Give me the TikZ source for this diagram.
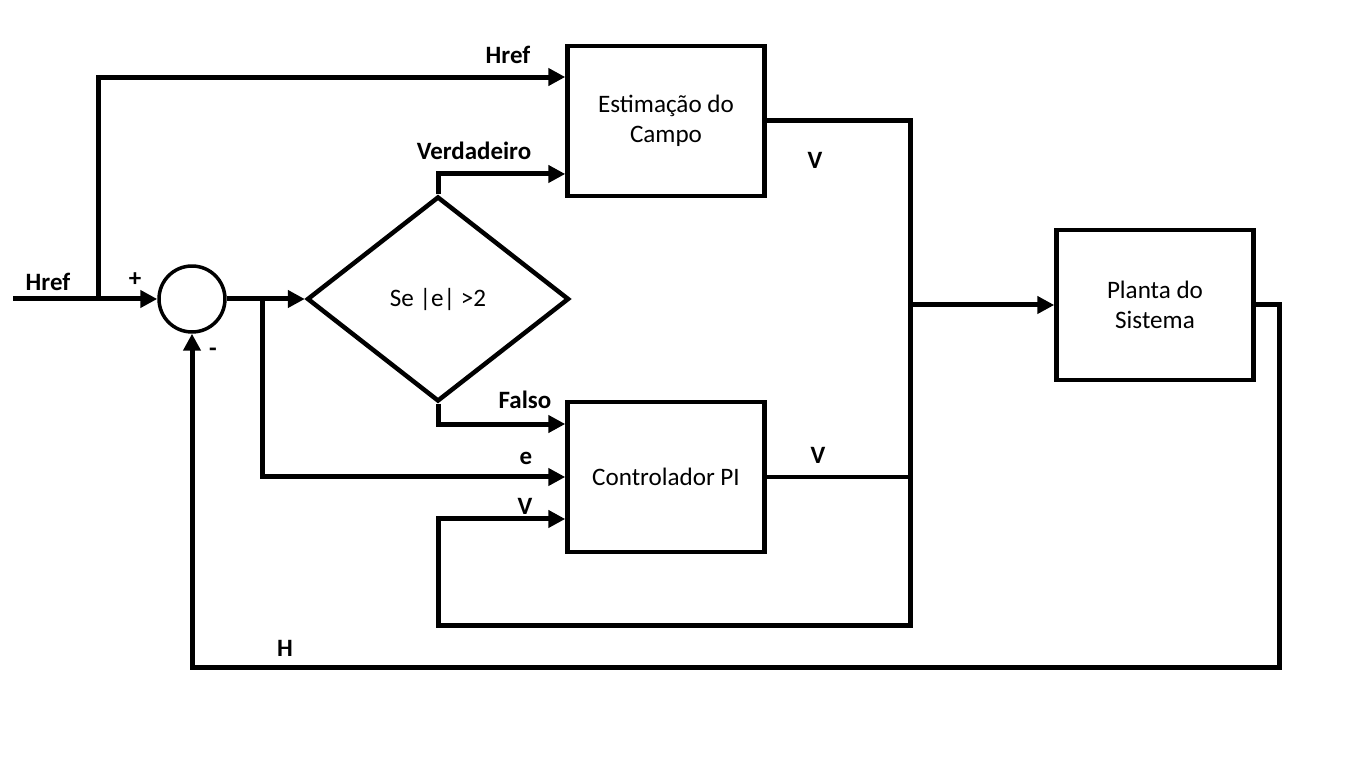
\documentclass[tikz,border=0pt]{standalone}
\usepackage{fontspec}
\setmainfont{Carlito}
\usetikzlibrary{arrows.meta,shapes.geometric}

\tikzset{
  blk/.style={draw, line width=0.09cm, minimum width=3.94cm, minimum height=3cm, align=center, inner sep=0pt},
  decision/.style={draw, diamond, line width=0.09cm, minimum width=5.24cm, minimum height=4.1cm, inner sep=0pt},
  sumnode/.style={draw, circle, line width=0.07cm, minimum size=1.32cm, inner sep=0pt},
  arr/.style={line width=0.1cm, -{Triangle[length=0.34cm, width=0.34cm]}},
  lbl/.style={font=\fontsize{14.2pt}{17pt}\selectfont\bfseries, inner sep=0pt}
}

\begin{document}
\begin{tikzpicture}[x=0.02cm, y=-0.02cm, font=\fontsize{14.3pt}{17pt}\selectfont]
        \useasboundingbox (0,0) rectangle (1353,763);

        % blocos
        \node[blk] (est) at (666,121) {Estimação do\\Campo};
        \node[blk] (ctrl) at (666,477) {Controlador PI};
        \node[blk] (plant) at (1155,305) {Planta do\\Sistema};
        \node[sumnode] (sum) at (192,299) {};
        \node[decision] (dec) at (438,299) {Se |e| >2};

        % pontos auxiliares
        \coordinate (in) at (13,299);
        \coordinate (b1) at (98,299);
        \coordinate (b2) at (262,299);
        \coordinate (jp) at (910,305);
        \coordinate (fbr) at (910,625);
        \coordinate (fbl) at (438,625);
        \coordinate (fbh) at (1279,667);

        % ligacoes
        \draw[arr] (in) -- (sum.west);
        \draw[arr] (b1) |- ([yshift=0.88cm]est.west);
        \draw[arr] (sum.east) -- (dec.west);
        \draw[arr] (b2) |- (ctrl.west);
        \draw[arr] (dec.north) |- ([yshift=-1.06cm]est.west);
        \draw[arr] (dec.south) |- ([yshift=1.06cm]ctrl.west);
        \draw[arr] (est.east) -| (fbr) -- (fbl) |- ([yshift=-0.84cm]ctrl.west);
        \draw[line width=0.07cm] (ctrl.east) -- (ctrl.east -| fbr);
        \draw[arr] (jp) -- (plant.west);
        \draw[arr] (plant.east) -| (fbh) -| (sum.south);

        % rotulos
        \node[lbl] (lhref) at (48,282) {Href};
        \node[lbl] (lplus) at (135,280) {+};
        \node[lbl] (lminus) at (213,352) {-};
        \node[lbl] (lhref2) at (508,55) {Href};
        \node[lbl] (lverd) at (474,151) {Verdadeiro};
        \node[lbl] (lfalso) at (525,400) {Falso};
        \node[lbl] (le) at (526,458) {e};
        \node[lbl] (lv) at (525,506) {V};
        \node[lbl] (lv1) at (815,160) {V};
        \node[lbl] (lv2) at (818,455) {V};
        \node[lbl] (lh) at (285,648) {H};
    \end{tikzpicture}
\end{document}
